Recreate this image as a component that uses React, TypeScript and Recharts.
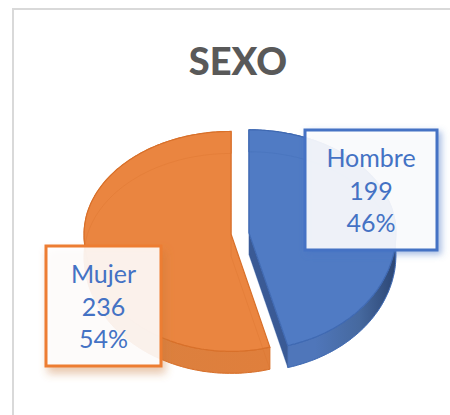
import { PieChart, Pie } from "recharts";

const categories = ["Hombre", "Mujer"];
const counts = [199, 236];
const title = "SEXO";

const data = categories.map((name, i) => ({ name, value: counts[i] }));

const fills = ["#507bc4", "#ea8540"];
const rims = ["#3f69b2", "#d8702a"];
const walls = ["url(#wallBlue)", "url(#wallOrange)"];
const boxes = [
    { x: 305, y: 130, w: 132, h: 120, stroke: "#4472c4", shadow: "url(#shadowBlue)" },
    { x: 46, y: 246, w: 115, h: 120, stroke: "#ed7d31", shadow: "url(#shadowOrange)" },
];

const RAD = Math.PI / 180;
const DEPTH = 22;
const EXPLODE = 9;
// the far half of the disc looks flatter than the near half
const FAR = 0.7;
const NEAR = 0.796;

function project(p: any, angle: number, dy = 0) {
    const ox = EXPLODE * Math.cos(p.midAngle * RAD);
    const oy = -EXPLODE * Math.sin(p.midAngle * RAD) * FAR;
    const s = Math.sin(angle * RAD);
    return [
        p.cx + ox + p.outerRadius * Math.cos(angle * RAD),
        p.cy + oy - p.outerRadius * s * (s > 0 ? FAR : NEAR) + dy,
    ];
}

function arcPoints(p: any, dy = 0) {
    const pts = [];
    const steps = Math.ceil(Math.abs(p.endAngle - p.startAngle));
    for (let i = 0; i <= steps; i++) {
        pts.push(project(p, p.startAngle + ((p.endAngle - p.startAngle) * i) / steps, dy));
    }
    return pts;
}

const toPath = (pts: number[][], close = true) =>
    "M" + pts.map((q) => q[0].toFixed(1) + "," + q[1].toFixed(1)).join("L") + (close ? "Z" : "");

function TiltedSlice(p: any) {
    const i = categories.indexOf(p.payload.name ?? p.name);
    const ox = EXPLODE * Math.cos(p.midAngle * RAD);
    const oy = -EXPLODE * Math.sin(p.midAngle * RAD) * FAR;
    const apex = [p.cx + ox, p.cy + oy];
    const apexLow = [apex[0], apex[1] + DEPTH];
    const top = arcPoints(p);
    const low = arcPoints(p, DEPTH);
    const first = top[0];
    const last = top[top.length - 1];
    return (
        <g>
            <path d={toPath([...top, ...[...low].reverse()])} fill={walls[i]} stroke={rims[i]} strokeWidth={1}/>
            <path d={toPath([apex, last, low[low.length - 1], apexLow])} fill={i === 0 ? "#3a5a95" : "#dd7e3c"}/>
            <path d={toPath([apex, first, ...top.slice(1)])} fill={fills[i]} stroke={rims[i]} strokeWidth={1.2}/>
            <path d={toPath([apexLow, ...low])} fill="none" stroke={rims[i]} strokeOpacity={0.3} strokeWidth={1}/>
        </g>
    );
}

function BoxLabel(p: any) {
    const i = p.index;
    const b = boxes[i];
    const mid = b.x + b.w / 2;
    const lines = [categories[i], String(counts[i]), Math.round(p.percent * 100) + "%"];
    return (
        <g>
            <rect x={b.x} y={b.y} width={b.w} height={b.h} fill="#fff" fillOpacity={0.88} stroke={b.stroke}
                  strokeWidth={3} filter={b.shadow}/>
            {lines.map((line, n) => (
                <text key={n} x={mid} y={b.y + 37 + n * 32.5} textAnchor="middle" fontFamily="Lato" fontSize={25}
                      fill="#4472c4">{line}</text>
            ))}
        </g>
    );
}

export default function App() {
    return (
        <div style={{ position: "absolute", left: 0, top: 0, width: 450, height: 415, background: "#fff", overflow: "hidden" }}>
            <div style={{ position: "absolute", left: 12, top: 8, width: 440, height: 410, borderLeft: "2px solid #d9d9d9", borderTop: "2px solid #d9d9d9" }}/>
            <div style={{ position: "absolute", left: 0, top: 0 }}>
                <PieChart width={450} height={415} margin={{ top: 0, right: 0, bottom: 0, left: 0 }}>
                    <defs>
                        <linearGradient id="wallBlue" x1="0" y1="0" x2="1" y2="0">
                            <stop offset="0.45" stopColor="#4f76ba"/>
                            <stop offset="0.75" stopColor="#46699f"/>
                            <stop offset="1" stopColor="#2c4674"/>
                        </linearGradient>
                        <linearGradient id="wallOrange" x1="0" y1="0" x2="1" y2="0">
                            <stop offset="0" stopColor="#d9803f"/>
                            <stop offset="1" stopColor="#e07f3c"/>
                        </linearGradient>
                        <filter id="shadowBlue" x="-20%" y="-20%" width="140%" height="140%">
                            <feDropShadow dx="3" dy="3" stdDeviation="3" floodColor="#4472c4" floodOpacity="0.5"/>
                        </filter>
                        <filter id="shadowOrange" x="-20%" y="-20%" width="140%" height="140%">
                            <feDropShadow dx="3" dy="6" stdDeviation="4" floodColor="#c8783c" floodOpacity="0.45"/>
                        </filter>
                    </defs>
                    <text x={238} y={75} textAnchor="middle" fontFamily="Lato" fontWeight={900} fontSize={38}
                          fill="#595959">{title}</text>
                    <Pie data={data} dataKey="value" nameKey="name" cx={240} cy={233.5} outerRadius={147}
                         startAngle={90} endAngle={-270} stroke="none" isAnimationActive={false}
                         shape={TiltedSlice} label={BoxLabel} labelLine={false}/>
                </PieChart>
            </div>
        </div>
    );
}
